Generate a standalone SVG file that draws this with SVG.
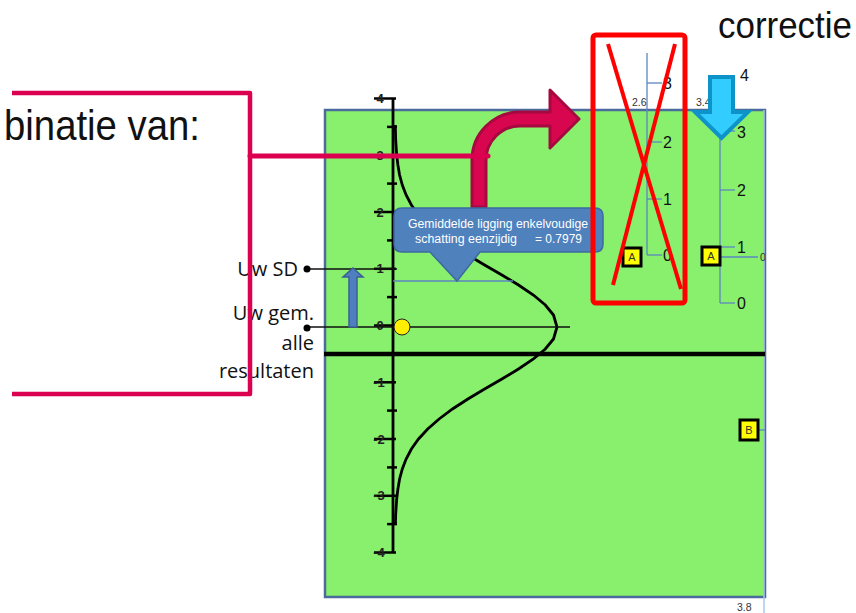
<svg xmlns="http://www.w3.org/2000/svg" width="856" height="613" viewBox="0 0 856 613">
<defs>
<style>
.ax{stroke:#000;stroke-width:2.8;fill:none}
.tk{stroke:#000;stroke-width:2.5}
.tl{font-family:"Liberation Sans",Arial,sans-serif;font-size:13px;font-weight:bold;fill:#222;text-anchor:middle}
.lbl{font-family:"Open Sans","Liberation Sans",sans-serif;font-size:20px;fill:#111;text-anchor:end}
.bl{stroke:#5b86c0;stroke-width:1.3;fill:none}
.num{font-family:"Liberation Sans",Arial,sans-serif;font-size:16px;fill:#111}
.sm{font-family:"Liberation Sans",Arial,sans-serif;font-size:10.5px;fill:#333}
.box{fill:#ffff00;stroke:#000;stroke-width:3}
.boxt{font-family:"Liberation Sans",Arial,sans-serif;font-size:11px;fill:#333;text-anchor:middle}
.pink{stroke:#dc0050;fill:none;stroke-linejoin:round}
</style>
<clipPath id="clipR"><rect x="0" y="0" width="765" height="613"/></clipPath>
</defs>

<!-- background panel -->
<g id="panel">
<rect x="325" y="110" width="440" height="487" fill="#88f06c" stroke="#4a6b9b" stroke-width="2.5"/>
<line x1="764" y1="110" x2="764" y2="613" stroke="#a8c8e8" stroke-width="1.5"/>
<text class="sm" x="737" y="611">3.8</text>
</g>

<!-- gaussian curve and axis -->
<g id="chart">
<path class="ax" d="M395.3,125 L395.7,140 L396.7,155 L397.9,165 L399.6,175 L402.3,185 L406.1,195 L411.4,205 L418.5,215 L427.7,225 L439.1,235 L452.5,245 L467.9,255 L484.6,265 L501.9,275 L518.5,285 L533.4,295 L545.3,305 L553.5,315 L557,327 L553.5,339 L545.3,349 L533.4,359 L518.5,369 L501.9,379 L484.6,389 L467.9,399 L452.5,409 L439.1,419 L427.7,429 L418.5,439 L411.4,449 L406.1,459 L402.3,469 L399.6,479 L397.9,489 L396.7,499 L395.7,514 L395.4,525"/>
<line class="ax" x1="393" y1="98" x2="393" y2="553"/>
<g class="tk">
<line x1="374" y1="98.5" x2="396" y2="98.5"/>
<line x1="374" y1="155.3" x2="396" y2="155.3"/>
<line x1="374" y1="212" x2="396" y2="212"/>
<line x1="374" y1="268.8" x2="396" y2="268.8"/>
<line x1="374" y1="325.5" x2="396" y2="325.5"/>
<line x1="374" y1="382.3" x2="396" y2="382.3"/>
<line x1="374" y1="439" x2="396" y2="439"/>
<line x1="374" y1="495.8" x2="396" y2="495.8"/>
<line x1="374" y1="552.5" x2="396" y2="552.5"/>
<line x1="387" y1="126.9" x2="397" y2="126.9"/>
<line x1="387" y1="183.6" x2="397" y2="183.6"/>
<line x1="387" y1="240.4" x2="397" y2="240.4"/>
<line x1="387" y1="297.1" x2="397" y2="297.1"/>
<line x1="387" y1="353.9" x2="397" y2="353.9"/>
<line x1="387" y1="410.6" x2="397" y2="410.6"/>
<line x1="387" y1="467.4" x2="397" y2="467.4"/>
<line x1="387" y1="524.1" x2="397" y2="524.1"/>
</g>
<text class="tl" x="380" y="103">4</text>
<text class="tl" x="380" y="160">3</text>
<text class="tl" x="380" y="217">2</text>
<text class="tl" x="380" y="273">1</text>
<text class="tl" x="380" y="330">0</text>
<text class="tl" x="379" y="387">-1</text>
<text class="tl" x="379" y="444">-2</text>
<text class="tl" x="379" y="500">-3</text>
<text class="tl" x="379" y="557">-4</text>
<line x1="324" y1="354" x2="765" y2="354" stroke="#000" stroke-width="4.5"/>
<line x1="393" y1="281" x2="513" y2="281" class="bl"/>
</g>

<!-- labels Uw SD / Uw gem -->
<g id="labels">
<line x1="307" y1="269" x2="397" y2="269" stroke="#111" stroke-width="1.3"/>
<circle cx="307" cy="269" r="3.5" fill="#000"/>
<line x1="307" y1="327" x2="570" y2="327" stroke="#111" stroke-width="1.3"/>
<circle cx="307" cy="328" r="3.5" fill="#000"/>
<text class="lbl" x="298" y="276">Uw SD</text>
<text class="lbl" x="314" y="320">Uw gem.</text>
<text class="lbl" x="314" y="350">alle</text>
<text class="lbl" x="314" y="378">resultaten</text>
<circle cx="402" cy="327" r="8" fill="#ffee00" stroke="#222" stroke-width="1"/>
</g>

<!-- blue up arrow -->
<g id="up-arrow">
<path d="M349,327 V277 H343 L353,268 L363,277 H357 V327 Z" fill="#4f7fbe" stroke="#3a5f95" stroke-width="1.5"/>
</g>

<!-- big text -->
<g id="titles">
<text x="4" y="140" font-family="Liberation Sans, Arial, sans-serif" font-size="42" fill="#111" textLength="196" lengthAdjust="spacingAndGlyphs">binatie van:</text>
<text x="718" y="38" font-family="Liberation Sans, Arial, sans-serif" font-size="36" fill="#111" textLength="134" lengthAdjust="spacingAndGlyphs">correctie</text>
</g>

<!-- connectors: pink bracket, line and bent arrow -->
<g id="connectors">
<path class="pink" stroke-width="4.5" d="M12,93 H250 V394 H12"/>
<path d="M472,207 V160 A48,48 0 0 1 520,112 H550 V90 L579,119 L550,148 V126 H520 A34,34 0 0 0 486,160 V207 Z" fill="#d8054f" stroke="#a5093f" stroke-width="3" stroke-linejoin="round"/>
<line x1="250" y1="156" x2="488" y2="156" stroke="#dc0050" stroke-width="5" stroke-linecap="round"/>
</g>

<!-- callout -->
<g id="callout">
<path d="M402,208 H595 Q603,208 603,216 V244 Q603,252 595,252 H480 L457,281 L430,252 H402 Q394,252 394,244 V216 Q394,208 402,208 Z" fill="#4f81bd" stroke="#3d6aa0" stroke-width="1.5"/>
<text x="408" y="228" font-family="Liberation Sans, Arial, sans-serif" font-size="12.5" fill="#fff" textLength="180" lengthAdjust="spacingAndGlyphs">Gemiddelde ligging enkelvoudige</text>
<text x="415" y="243" font-family="Liberation Sans, Arial, sans-serif" font-size="12.5" fill="#fff" textLength="102" lengthAdjust="spacingAndGlyphs">schatting eenzijdig</text>
<text x="535" y="243" font-family="Liberation Sans, Arial, sans-serif" font-size="12.5" fill="#fff" textLength="47" lengthAdjust="spacingAndGlyphs">= 0.7979</text>
</g>

<!-- small scale inside red box -->
<g id="scale-left">
<line class="bl" x1="647" y1="53" x2="647" y2="255"/>
<line class="bl" x1="647" y1="83" x2="662" y2="83"/>
<line class="bl" x1="647" y1="142" x2="662" y2="142"/>
<line class="bl" x1="647" y1="199" x2="662" y2="199"/>
<line class="bl" x1="647" y1="255" x2="662" y2="255"/>
<text class="num" x="663" y="89">3</text>
<text class="num" x="663" y="148">2</text>
<text class="num" x="663" y="205">1</text>
<text class="num" x="663" y="261">0</text>
<text class="sm" x="632" y="106">2.6</text>
<rect class="box" x="623" y="248" width="18" height="18"/>
<text class="boxt" x="632" y="261">A</text>
</g>

<!-- right scale -->
<g id="scale-right">
<text class="sm" x="696" y="106">3.4</text>
<line class="bl" x1="720" y1="75" x2="720" y2="303"/>
<line class="bl" x1="720" y1="131" x2="735" y2="131"/>
<line class="bl" x1="720" y1="190" x2="735" y2="190"/>
<line class="bl" x1="720" y1="247" x2="735" y2="247"/>
<line class="bl" x1="720" y1="303" x2="735" y2="303"/>
<text class="num" x="737" y="138">3</text>
<text class="num" x="737" y="196">2</text>
<text class="num" x="737" y="253">1</text>
<text class="num" x="737" y="309">0</text>
<text class="num" x="740" y="81">4</text>
<line class="bl" x1="720" y1="257" x2="758" y2="257"/>
<text class="sm" x="760" y="261" clip-path="url(#clipR)">0</text>
<rect class="box" x="702" y="247" width="18" height="18"/>
<text class="boxt" x="711" y="260">A</text>
<line class="bl" x1="758" y1="430" x2="765" y2="430"/>
<rect class="box" x="740" y="420" width="18" height="20"/>
<text class="boxt" x="749" y="434">B</text>
</g>

<!-- cyan down arrow -->
<g id="down-arrow">
<path d="M710,77 H733 V112 H748 L721.5,138 L695,112 H710 Z" fill="#33ccff" stroke="#0e93c9" stroke-width="4" stroke-linejoin="miter"/>
</g>

<!-- red cross-out -->
<g id="cross">
<rect x="593" y="35" width="92" height="268" rx="3" fill="none" stroke="#ff0000" stroke-width="5"/>
<line x1="608" y1="44" x2="681" y2="289" stroke="#ff0000" stroke-width="4"/>
<line x1="675" y1="44" x2="613" y2="285" stroke="#ff0000" stroke-width="4"/>
</g>
</svg>
